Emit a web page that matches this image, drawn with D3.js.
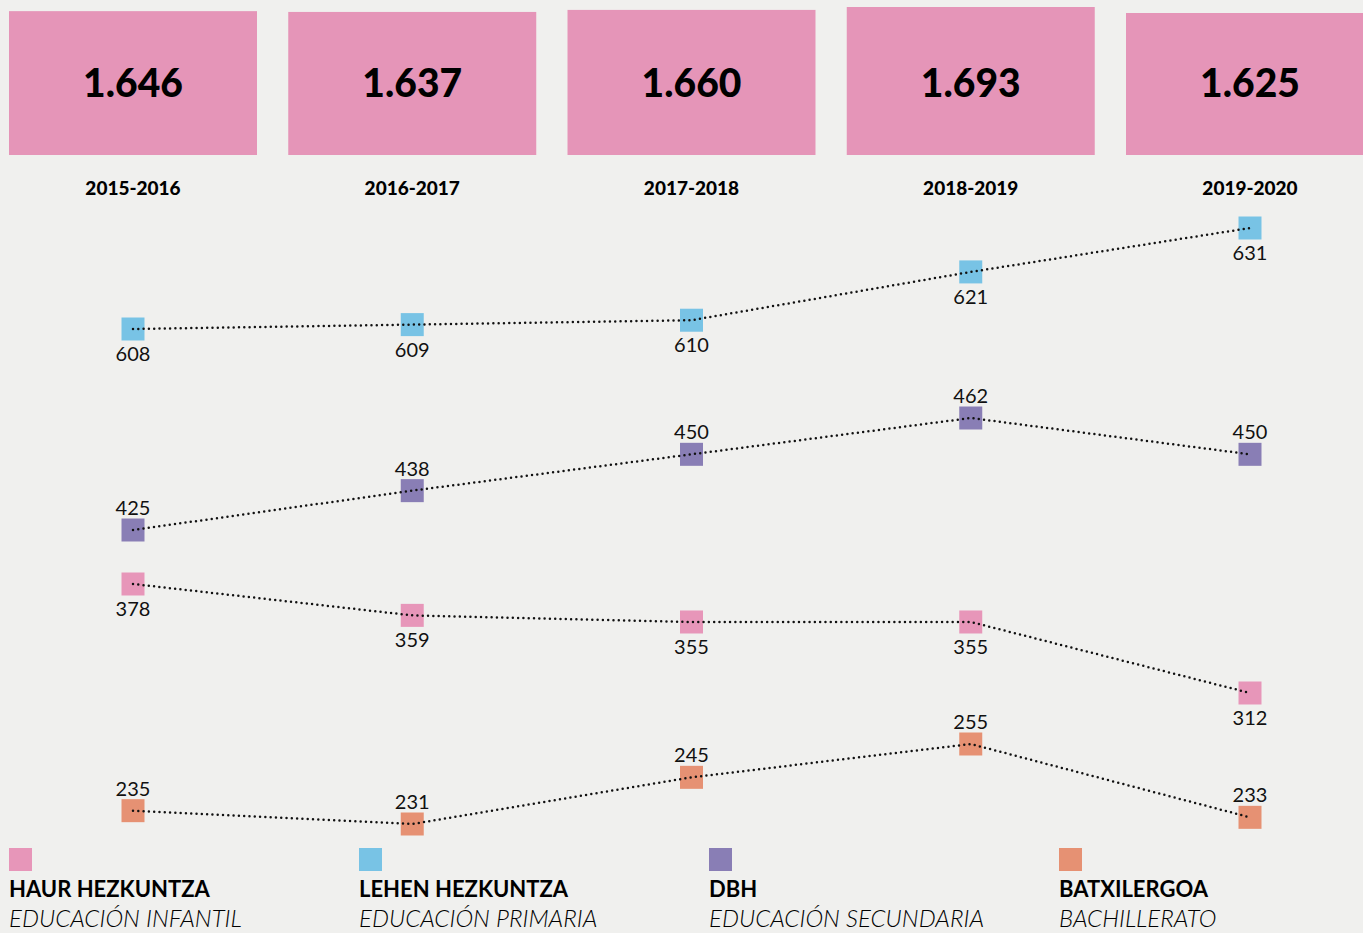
<!DOCTYPE html>
<html>
    <head>
        <meta charset="utf-8">
        <style>
            body {
                margin: 0;
                background: #f0f0ee;
                font-family: Lato, "Noto Sans", sans-serif;
            }
            .dots {
                fill: none;
                stroke: #111;
                stroke-width: 2.5;
                stroke-dasharray: 0 5.3;
                stroke-linecap: round;
            }
            .total { font-size: 39px; font-weight: 900; }
            .year { font-size: 19px; font-weight: 900; }
            .value { font-size: 20px; fill: #111; }
            .leg-eu { font-size: 22px; font-weight: 700; }
            .leg-es { font-size: 24px; font-style: italic; font-weight: 300; }
        </style>
    </head>
    <body>
        <script src="https://d3js.org/d3.v7.min.js"></script>

        <script>
            // data
            const years = ["2015-2016", "2016-2017", "2017-2018", "2018-2019", "2019-2020"];
            const totals = [1646, 1637, 1660, 1693, 1625];
            const infantil = [378, 359, 355, 355, 312];
            const primaria = [608, 609, 610, 621, 631];
            const secundaria = [425, 438, 450, 462, 450];
            const bachillerato = [235, 231, 245, 255, 233];
            const namesEu = ["HAUR HEZKUNTZA", "LEHEN HEZKUNTZA", "DBH", "BATXILERGOA"];
            const namesEs = ["EDUCACIÓN INFANTIL", "EDUCACIÓN PRIMARIA", "EDUCACIÓN SECUNDARIA", "BACHILLERATO"];

            function makeChart() {
                const width = 1363;
                const height = 933;
                const box = 23;

                const svg = d3.select("body").append("svg")
                    .attr("width", width)
                    .attr("height", height);

                svg.append("rect")
                    .attr("width", width)
                    .attr("height", height)
                    .attr("fill", "#f0f0ee");

                const x = d3.scalePoint()
                    .domain(years)
                    .range([133, 1250]);

                // totals in pink boxes
                const boxH = d3.scaleLinear()
                    .domain([1625, 1693])
                    .range([142, 148]);

                const top = svg.append("g");
                top.selectAll("rect")
                    .data(totals)
                    .join("rect")
                    .attr("x", (d, i) => x(years[i]) - 124)
                    .attr("y", d => 155 - boxH(d))
                    .attr("width", 248)
                    .attr("height", d => boxH(d))
                    .attr("fill", "#e595b8");

                top.selectAll("text.total")
                    .data(totals)
                    .join("text")
                    .attr("class", "total")
                    .attr("x", (d, i) => x(years[i]))
                    .attr("y", 97)
                    .attr("text-anchor", "middle")
                    .text(d => d3.format(",")(d).replace(",", "."));

                top.selectAll("text.year")
                    .data(years)
                    .join("text")
                    .attr("class", "year")
                    .attr("x", d => x(d))
                    .attr("y", 195)
                    .attr("text-anchor", "middle")
                    .text(d => d);

                // one small scale per series (each lives in its own band)
                const series = [
                    {values: infantil, color: "#e796b9", dom: [312, 378], rng: [693, 584], above: false},
                    {values: primaria, color: "#78c3e5", dom: [608, 631], rng: [329, 228], above: false},
                    {values: secundaria, color: "#897eb5", dom: [425, 462], rng: [530, 418], above: true},
                    {values: bachillerato, color: "#e69173", dom: [231, 255], rng: [824, 744], above: true}
                ];

                series.forEach(s => {
                    const y = d3.scaleLinear().domain(s.dom).range(s.rng);
                    const g = svg.append("g");

                    g.selectAll("rect")
                        .data(s.values)
                        .join("rect")
                        .attr("x", (d, i) => x(years[i]) - box / 2)
                        .attr("y", d => y(d) - box / 2)
                        .attr("width", box)
                        .attr("height", box)
                        .attr("fill", s.color);

                    const line = d3.line()
                        .x((d, i) => x(years[i]))
                        .y(d => y(d));

                    g.append("path")
                        .attr("class", "dots")
                        .attr("d", line(s.values));

                    g.selectAll("text")
                        .data(s.values)
                        .join("text")
                        .attr("class", "value")
                        .attr("x", (d, i) => x(years[i]))
                        .attr("y", d => s.above ? y(d) - 15 : y(d) + 32)
                        .attr("text-anchor", "middle")
                        .text(d => d);
                });

                // legend
                const legend = svg.append("g");
                const items = legend.selectAll("g")
                    .data(series)
                    .join("g")
                    .attr("transform", (d, i) => "translate(" + (9 + i * 350) + ",0)");

                items.append("rect")
                    .attr("y", 848)
                    .attr("width", box)
                    .attr("height", box)
                    .attr("fill", d => d.color);

                items.append("text")
                    .attr("class", "leg-eu")
                    .attr("y", 897)
                    .text((d, i) => namesEu[i]);

                items.append("text")
                    .attr("class", "leg-es")
                    .attr("y", 927)
                    .text((d, i) => namesEs[i]);
            }
            makeChart();
        </script>
    </body>
</html>
